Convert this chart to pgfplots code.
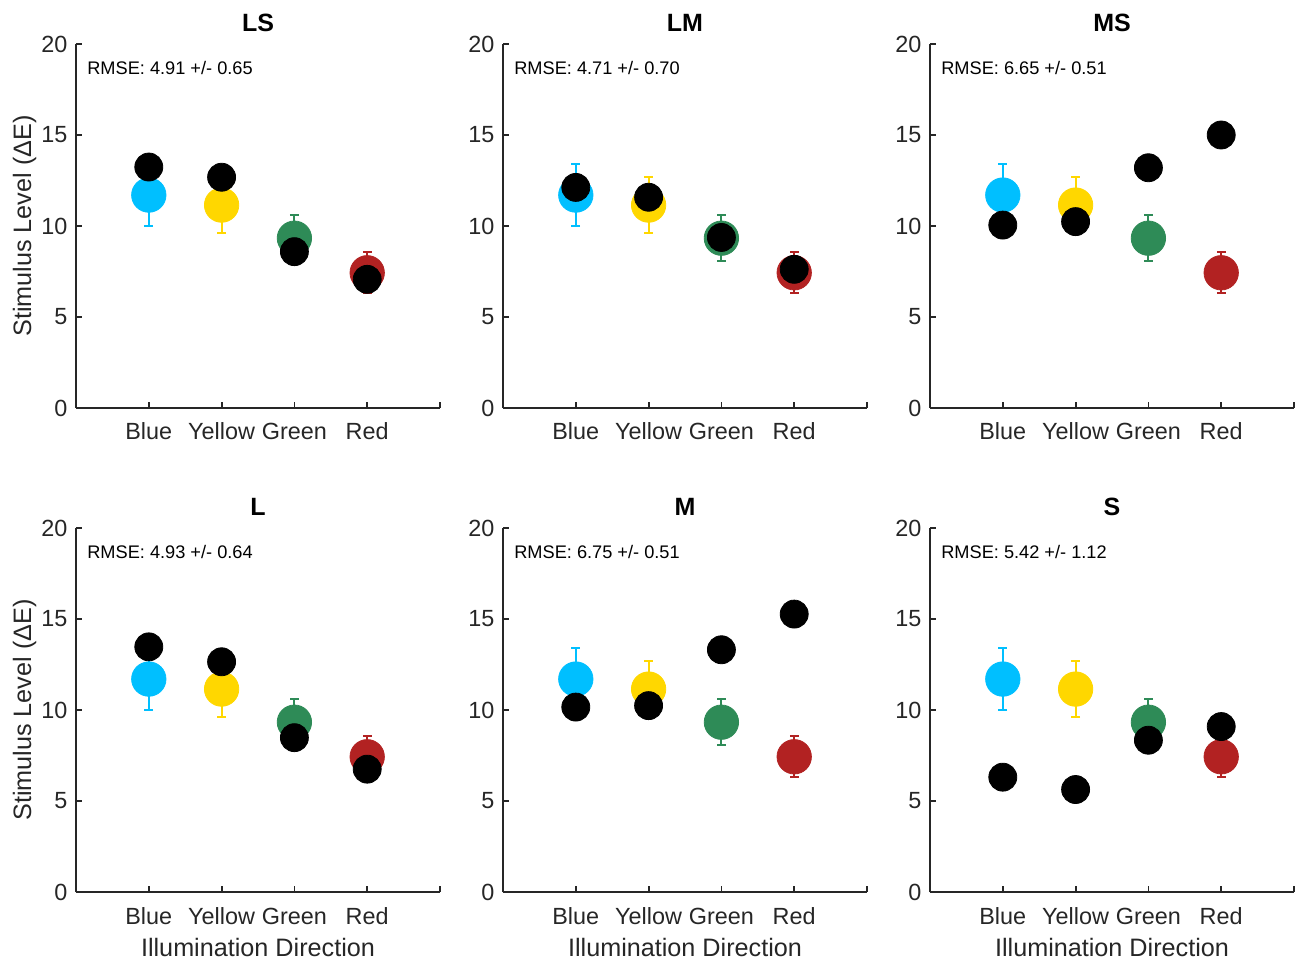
\documentclass[border=0pt]{standalone}
\usepackage{fontspec}
\setmainfont{Liberation Sans}
\usepackage{pgfplots}
\pgfplotsset{compat=1.18}
\usepackage{pgfplotstable}
\definecolor{cblue}{RGB}{0,191,255}
\definecolor{cyellow}{RGB}{255,215,0}
\definecolor{cgreen}{RGB}{46,139,87}
\definecolor{cred}{RGB}{178,34,34}
\definecolor{axgray}{RGB}{38,38,38}

\pgfplotstableread{
x LS LM MS L M S
1 13.24 12.12 10.05 13.47 10.16 6.31
2 12.68 11.58 10.24 12.65 10.24 5.63
3 8.59 9.37 13.20 8.48 13.31 8.34
4 7.07 7.62 15.00 6.75 15.27 9.09
}\model

\newcommand{\obspt}[4]{%
\addplot[only marks, mark=*, mark size=8.6pt, color=#1, mark options={draw=none,fill=#1},
  error bars/.cd, y dir=both, y explicit, error mark=-,
  error bar style={line width=1pt,#1},
  error mark options={rotate=90, line width=1pt, mark size=2.2pt, #1}]
  coordinates {(#2,#3) +- (0,#4)};}
\newcommand{\obsplots}{%
\obspt{cblue}{1}{11.70}{1.70}
\obspt{cyellow}{2}{11.15}{1.52}
\obspt{cgreen}{3}{9.33}{1.28}
\obspt{cred}{4}{7.43}{1.12}}
\newcommand{\modelplot}[1]{%
\addplot[only marks, mark=*, mark size=7pt, black, mark options={draw=none,fill=black}] table[x=x,y=#1] {\model};}
\newcommand{\rmse}[1]{\node[anchor=base west, font=\fontsize{9.1}{11}\selectfont, inner sep=0pt] at (rel axis cs:0.03,0.915) {RMSE: #1};}

\pgfplotsset{panel/.style={
  scale only axis, width=182pt, height=182pt, anchor=south west,
  xmin=0, xmax=5, ymin=0, ymax=20,
  axis x line=bottom, axis y line=left,
  axis line style={-, line width=0.9pt, axgray},
  tick align=inside, major tick length=2.8pt,
  tick style={line width=0.9pt, axgray},
  xtick={0,1,2,3,4,5}, xticklabels={,Blue,Yellow,Green,Red,},
  ytick={0,5,10,15,20},
  tick label style={font=\fontsize{11.7}{13}\selectfont, text=axgray},
  xticklabel style={anchor=base, yshift=-16pt},
  yticklabel style={xshift=-0.8pt},
  /pgf/number format/assume math mode=true,
  title style={at={(axis description cs:0.5,1.0025)}, anchor=base, font=\bfseries\fontsize{12.5}{14}\selectfont},
  xlabel style={at={(axis description cs:0.5,-0.1775)}, anchor=base, font=\fontsize{12.6}{14}\selectfont, text=axgray},
  ylabel style={at={(axis description cs:-0.1236,0.5)}, anchor=base, font=\fontsize{12.6}{14}\selectfont, text=axgray},
  clip=false,
}}

\begin{document}
\begin{tikzpicture}
\path[use as bounding box] (0,0) rectangle (648.5pt,480pt);
% top row
\begin{axis}[panel, at={(38pt,276pt)}, title={LS}, ylabel={Stimulus Level (ΔE)}]
\obsplots
\modelplot{LS}
\rmse{4.91 +/- 0.65}
\end{axis}
\begin{axis}[panel, at={(251.5pt,276pt)}, title={LM}]
\obsplots
\modelplot{LM}
\rmse{4.71 +/- 0.70}
\end{axis}
\begin{axis}[panel, at={(465pt,276pt)}, title={MS}]
\obsplots
\modelplot{MS}
\rmse{6.65 +/- 0.51}
\end{axis}
% bottom row
\begin{axis}[panel, at={(38pt,34pt)}, title={L}, ylabel={Stimulus Level (ΔE)}, xlabel={Illumination Direction}]
\obsplots
\modelplot{L}
\rmse{4.93 +/- 0.64}
\end{axis}
\begin{axis}[panel, at={(251.5pt,34pt)}, title={M}, xlabel={Illumination Direction}]
\obsplots
\modelplot{M}
\rmse{6.75 +/- 0.51}
\end{axis}
\begin{axis}[panel, at={(465pt,34pt)}, title={S}, xlabel={Illumination Direction}]
\obsplots
\modelplot{S}
\rmse{5.42 +/- 1.12}
\end{axis}
\end{tikzpicture}
\end{document}
